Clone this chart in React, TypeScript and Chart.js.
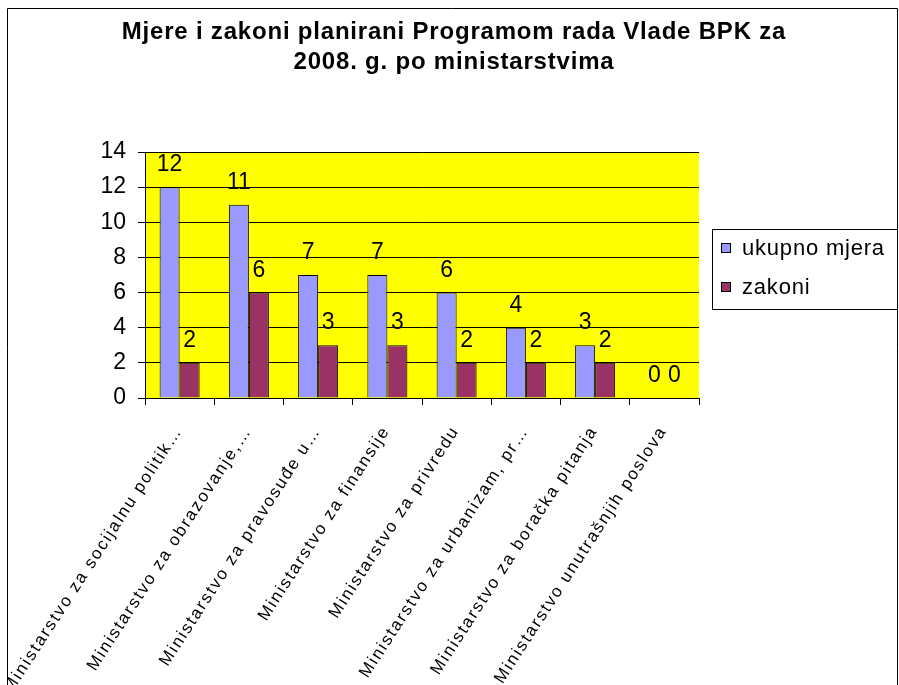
import React, { useEffect, useRef } from "react";
import { Chart, registerables } from "chart.js";

Chart.register(...registerables);

const titleLines = ["Mjere i zakoni planirani Programom rada Vlade BPK za", "2008. g. po ministarstvima"];
const categories = [
  "Ministarstvo za socijalnu politik…",
  "Ministarstvo za obrazovanje,…",
  "Ministarstvo za pravosuđe u…",
  "Ministarstvo za finansije",
  "Ministarstvo za privredu",
  "Ministarstvo za urbanizam, pr…",
  "Ministarstvo za boračka pitanja",
  "Ministarstvo unutrašnjih poslova",
];
const seriesNames = ["ukupno mjera", "zakoni"];
const ukupnoMjera = [12, 11, 7, 7, 6, 4, 3, 0];
const zakoni = [2, 6, 3, 3, 2, 2, 2, 0];
const seriesColors = ["#9999FF", "#993366"];
const yMin = 0;
const yMax = 14;
const yStep = 2;

const FONT = '"Liberation Sans", Arial, sans-serif';

const decorPlugin = {
  id: "decor",
  beforeDraw(chart: any) {
    const { ctx, chartArea } = chart;
    ctx.save();
    ctx.fillStyle = "#FFFFFF";
    ctx.fillRect(0, 0, chart.width, chart.height);
    ctx.fillStyle = "#FFFF00";
    ctx.fillRect(chartArea.left, chartArea.top, chartArea.right - chartArea.left, chartArea.bottom - chartArea.top);
    ctx.restore();
  },
  afterDatasetsDraw(chart: any) {
    const { ctx } = chart;
    ctx.save();
    ctx.fillStyle = "#000";
    ctx.font = `23px ${FONT}`;
    ctx.textAlign = "center";
    ctx.textBaseline = "alphabetic";
    chart.data.datasets.forEach((ds: any, di: number) => {
      const meta = chart.getDatasetMeta(di);
      meta.data.forEach((el: any, i: number) => {
        ctx.fillText(String(ds.data[i]), el.x, el.y - 16);
      });
    });
    ctx.restore();
  },
  afterDraw(chart: any) {
    const { ctx } = chart;
    const xScale = chart.scales.x;
    ctx.save();
    // outer border
    ctx.strokeStyle = "#000";
    ctx.lineWidth = 1;
    ctx.beginPath();
    ctx.moveTo(7.5, 700);
    ctx.lineTo(7.5, 8.5);
    ctx.lineTo(897.5, 8.5);
    ctx.lineTo(897.5, 700);
    ctx.stroke();

    // title
    ctx.fillStyle = "#000";
    ctx.font = `bold 24px ${FONT}`;
    (ctx as any).letterSpacing = "0.8px";
    ctx.textAlign = "center";
    ctx.textBaseline = "alphabetic";
    ctx.fillText(titleLines[0], 454, 39);
    ctx.fillText(titleLines[1], 454, 69);
    (ctx as any).letterSpacing = "0px";

    // legend
    ctx.fillStyle = "#FFFFFF";
    ctx.fillRect(712, 229, 185, 80);
    ctx.strokeStyle = "#000";
    ctx.strokeRect(712.5, 229.5, 185, 80);
    const baselines = [255, 294];
    chart.data.datasets.forEach((ds: any, di: number) => {
      const by = baselines[di];
      ctx.fillStyle = ds.backgroundColor;
      ctx.fillRect(721, by - 12, 10, 10);
      ctx.strokeStyle = "#000";
      ctx.strokeRect(721.5, by - 11.5, 9, 9);
      ctx.fillStyle = "#000";
      ctx.font = `22px ${FONT}`;
      (ctx as any).letterSpacing = "0.8px";
      ctx.textAlign = "left";
      ctx.fillText(ds.label, 742, by);
      (ctx as any).letterSpacing = "0px";
    });

    // x labels
    const angle = (57 * Math.PI) / 180;
    ctx.font = `17px ${FONT}`;
    ctx.fillStyle = "#000";
    chart.data.labels.forEach((lab: string, i: number) => {
      const cx = xScale.getPixelForValue(i);
      ctx.save();
      ctx.translate(cx - 1, 428);
      ctx.rotate(-angle);
      (ctx as any).letterSpacing = "1.9px";
      ctx.textAlign = "right";
      ctx.textBaseline = "middle";
      ctx.fillText(lab, 0, 0);
      ctx.restore();
    });
    ctx.restore();
  },
};

export default function App() {
  const ref = useRef<HTMLCanvasElement | null>(null);
  useEffect(() => {
    if (!ref.current) return;
    const chart = new Chart(ref.current, {
      type: "bar",
      data: {
        labels: categories,
        datasets: [
          {
            label: seriesNames[0],
            data: ukupnoMjera,
            backgroundColor: seriesColors[0],
            borderColor: "#000",
            borderWidth: 1,
            barPercentage: 1,
            categoryPercentage: 0.578,
          },
          {
            label: seriesNames[1],
            data: zakoni,
            backgroundColor: seriesColors[1],
            borderColor: "#000",
            borderWidth: 1,
            barPercentage: 1,
            categoryPercentage: 0.578,
          },
        ],
      },
      options: {
        responsive: false,
        animation: false,
        devicePixelRatio: 1,
        layout: { padding: { left: 0, top: 152, right: 200, bottom: 0 } },
        plugins: { legend: { display: false }, title: { display: false }, tooltip: { enabled: false } },
        scales: {
          x: {
            afterFit: (s: any) => {
              s.height = 287;
            },
            grid: { offset: true, drawOnChartArea: false, drawTicks: true, tickLength: 7, color: "#000" },
            border: { display: true, color: "#000", width: 1 },
            ticks: { display: false },
          },
          y: {
            min: yMin,
            max: yMax,
            afterFit: (s: any) => {
              s.width = 145;
            },
            grid: { color: "#000", lineWidth: 1, drawTicks: true, tickLength: 7 },
            border: { display: true, color: "#000", width: 1 },
            ticks: { stepSize: yStep, color: "#000", padding: 12, font: { family: FONT, size: 23 } },
          },
        },
      },
      plugins: [decorPlugin],
    });
    return () => chart.destroy();
  }, []);
  return <canvas ref={ref} width={899} height={685} style={{ position: "fixed", left: 0, top: 0 }} />;
}
